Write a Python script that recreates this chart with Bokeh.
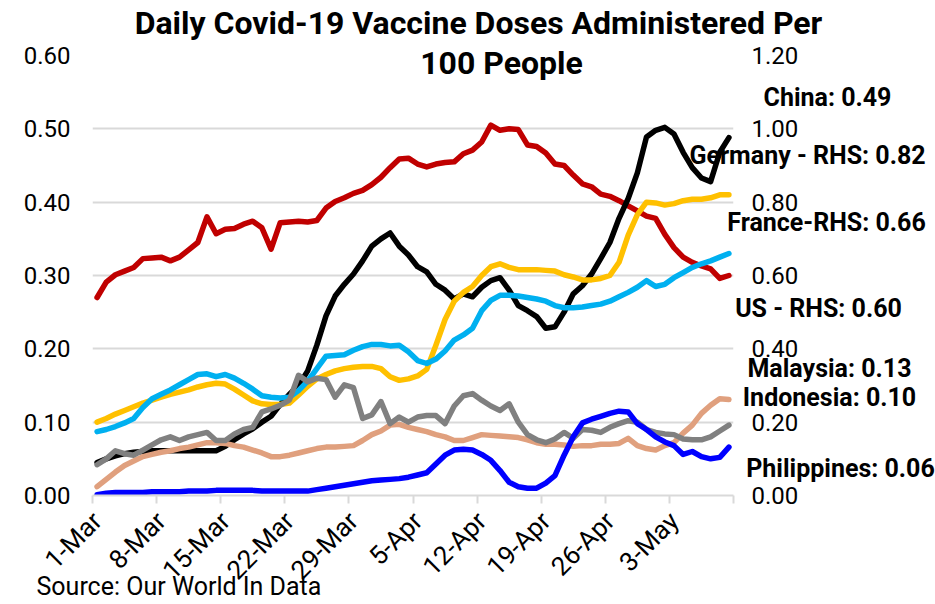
import math
import pandas as pd
from bokeh.plotting import figure
from bokeh.models import Range1d, LinearAxis, FixedTicker, NumeralTickFormatter, ColumnDataSource
from bokeh.core.properties import value
from bokeh.embed import file_html
from bokeh.resources import INLINE

# ---------------- data ----------------
dates = pd.date_range("2021-03-01", "2021-05-09", freq="D")
tick_labels = ["1-Mar", "8-Mar", "15-Mar", "22-Mar", "29-Mar", "5-Apr", "12-Apr", "19-Apr", "26-Apr", "3-May"]

# left axis series (doses per 100 people)
china = [0.045, 0.050, 0.054, 0.057, 0.059, 0.060, 0.061, 0.061, 0.061, 0.061,
         0.061, 0.061, 0.061, 0.061, 0.067, 0.076, 0.084, 0.091, 0.100, 0.108,
         0.124, 0.138, 0.150, 0.170, 0.205, 0.245, 0.272, 0.288, 0.302, 0.320,
         0.340, 0.350, 0.358, 0.340, 0.328, 0.312, 0.305, 0.288, 0.280, 0.268,
         0.275, 0.271, 0.284, 0.293, 0.297, 0.280, 0.259, 0.252, 0.244, 0.228,
         0.230, 0.250, 0.275, 0.286, 0.302, 0.323, 0.345, 0.378, 0.405, 0.440,
         0.489, 0.498, 0.502, 0.493, 0.468, 0.447, 0.433, 0.428, 0.468, 0.488]
malaysia = [0.012, 0.022, 0.032, 0.041, 0.047, 0.053, 0.056, 0.059, 0.061, 0.064,
            0.066, 0.069, 0.072, 0.072, 0.071, 0.068, 0.066, 0.062, 0.058, 0.053,
            0.053, 0.055, 0.058, 0.061, 0.064, 0.066, 0.066, 0.067, 0.068, 0.075,
            0.083, 0.088, 0.096, 0.097, 0.093, 0.090, 0.087, 0.083, 0.080, 0.075,
            0.075, 0.079, 0.083, 0.082, 0.081, 0.080, 0.079, 0.076, 0.072, 0.070,
            0.070, 0.069, 0.067, 0.068, 0.068, 0.070, 0.070, 0.071, 0.078, 0.068,
            0.064, 0.062, 0.068, 0.072, 0.085, 0.096, 0.112, 0.123, 0.132, 0.131]
indonesia = [0.042, 0.050, 0.061, 0.057, 0.055, 0.062, 0.069, 0.076, 0.080, 0.075,
             0.080, 0.083, 0.086, 0.075, 0.075, 0.084, 0.090, 0.093, 0.114, 0.118,
             0.123, 0.130, 0.164, 0.155, 0.160, 0.158, 0.134, 0.151, 0.147, 0.105,
             0.110, 0.128, 0.098, 0.107, 0.100, 0.107, 0.109, 0.109, 0.098, 0.122,
             0.136, 0.139, 0.130, 0.122, 0.116, 0.125, 0.100, 0.083, 0.076, 0.072,
             0.077, 0.086, 0.078, 0.090, 0.089, 0.086, 0.093, 0.098, 0.102, 0.100,
             0.090, 0.086, 0.084, 0.083, 0.077, 0.076, 0.076, 0.080, 0.088, 0.096]
philippines = [0.001, 0.003, 0.004, 0.004, 0.004, 0.004, 0.005, 0.005, 0.005, 0.005,
               0.006, 0.006, 0.006, 0.007, 0.007, 0.007, 0.007, 0.007, 0.006, 0.006,
               0.006, 0.006, 0.006, 0.006, 0.008, 0.010, 0.012, 0.014, 0.016, 0.018,
               0.020, 0.021, 0.022, 0.023, 0.025, 0.028, 0.031, 0.043, 0.055, 0.062,
               0.063, 0.062, 0.056, 0.048, 0.034, 0.018, 0.012, 0.010, 0.010, 0.017,
               0.027, 0.055, 0.080, 0.099, 0.104, 0.108, 0.112, 0.115, 0.114, 0.098,
               0.090, 0.080, 0.073, 0.068, 0.056, 0.060, 0.053, 0.050, 0.052, 0.066]

# right axis series (RHS)
us_rhs = [0.540, 0.582, 0.602, 0.612, 0.622, 0.646, 0.648, 0.650, 0.640, 0.650,
          0.670, 0.690, 0.760, 0.714, 0.726, 0.728, 0.740, 0.748, 0.730, 0.672,
          0.744, 0.746, 0.748, 0.746, 0.750, 0.784, 0.802, 0.812, 0.824, 0.832,
          0.848, 0.868, 0.894, 0.918, 0.920, 0.904, 0.896, 0.904, 0.908, 0.910,
          0.932, 0.942, 0.964, 1.010, 0.996, 1.000, 0.998, 0.956, 0.952, 0.934,
          0.904, 0.900, 0.874, 0.850, 0.842, 0.822, 0.816, 0.804, 0.790, 0.776,
          0.762, 0.756, 0.712, 0.676, 0.650, 0.636, 0.626, 0.618, 0.592, 0.600]
germany_rhs = [0.200, 0.210, 0.222, 0.232, 0.242, 0.252, 0.260, 0.268, 0.276, 0.282,
               0.288, 0.296, 0.302, 0.306, 0.304, 0.290, 0.274, 0.258, 0.250, 0.248,
               0.248, 0.252, 0.274, 0.298, 0.318, 0.330, 0.340, 0.346, 0.350, 0.352,
               0.352, 0.346, 0.324, 0.314, 0.318, 0.326, 0.344, 0.410, 0.480, 0.530,
               0.554, 0.570, 0.600, 0.624, 0.632, 0.622, 0.616, 0.616, 0.616, 0.614,
               0.612, 0.602, 0.596, 0.588, 0.588, 0.592, 0.600, 0.636, 0.710, 0.766,
               0.800, 0.798, 0.792, 0.796, 0.804, 0.808, 0.808, 0.812, 0.820, 0.820]
france_rhs = [0.174, 0.180, 0.188, 0.198, 0.210, 0.240, 0.264, 0.276, 0.288, 0.302,
              0.316, 0.330, 0.332, 0.324, 0.330, 0.320, 0.306, 0.290, 0.272, 0.268,
              0.266, 0.268, 0.286, 0.312, 0.346, 0.380, 0.382, 0.384, 0.396, 0.406,
              0.412, 0.412, 0.408, 0.410, 0.392, 0.368, 0.360, 0.372, 0.394, 0.424,
              0.438, 0.456, 0.504, 0.532, 0.546, 0.546, 0.544, 0.540, 0.536, 0.530,
              0.518, 0.512, 0.512, 0.514, 0.518, 0.522, 0.530, 0.542, 0.554, 0.568,
              0.586, 0.570, 0.576, 0.594, 0.608, 0.622, 0.632, 0.640, 0.650, 0.660]

end_labels = ["China: 0.49", "Germany - RHS: 0.82", "France-RHS: 0.66", "US - RHS: 0.60",
              "Malaysia: 0.13", "Indonesia: 0.10", "Philippines: 0.06"]
title_lines = ["Daily Covid-19 Vaccine Doses Administered Per", "100 People"]
source_text = "Source: Our World In Data"

# ---------------- figure ----------------
FONT = "Roboto"
GRID = "#D9D9D9"
W, H = 935, 604
ML, MR, MT, MB = 92, 202, 55, 109

n = len(dates)
xs = list(range(n))

p = figure(width=W, height=H, output_backend="svg", toolbar_location=None,
           x_range=Range1d(-0.5, n - 0.5), y_range=Range1d(0, 0.6),
           min_border_left=ML, min_border_right=MR, min_border_top=MT, min_border_bottom=MB)
p.extra_y_ranges = {"rhs": Range1d(0, 1.2)}
p.outline_line_color = None

fw = W - ML - MR
fh = H - MT - MB


def sx(px):  # canvas pixel x -> data x
    return (px - ML) / fw * n - 0.5


def sy(py):  # canvas pixel y -> data y (left axis)
    return (MT + fh - py) / fh * 0.6


# left axis
yax = p.yaxis[0]
yax.ticker = FixedTicker(ticks=[0.0, 0.1, 0.2, 0.3, 0.4, 0.5, 0.6])
yax.formatter = NumeralTickFormatter(format="0.00")
yax.axis_line_color = None
yax.major_tick_line_color = None
yax.minor_tick_line_color = None
yax.major_label_standoff = 16
yax.major_label_text_font = FONT
yax.major_label_text_font_size = "24px"
yax.major_label_text_color = "#000000"

# right axis
rax = LinearAxis(y_range_name="rhs", ticker=FixedTicker(ticks=[0.0, 0.2, 0.4, 0.6, 0.8, 1.0, 1.2]),
                 formatter=NumeralTickFormatter(format="0.00"))
rax.axis_line_color = None
rax.major_tick_line_color = None
rax.minor_tick_line_color = None
rax.major_label_standoff = 12
rax.major_label_text_font = FONT
rax.major_label_text_font_size = "24px"
rax.major_label_text_color = "#000000"
p.add_layout(rax, "right")

# bottom axis
xax = p.xaxis[0]
major = [i * 7 for i in range(len(tick_labels))]
xax.ticker = FixedTicker(ticks=major, minor_ticks=[k * 7 - 0.5 for k in range(len(tick_labels) + 1)])
xax.major_label_overrides = {m: t for m, t in zip(major, tick_labels)}
xax.major_tick_line_color = None
xax.minor_tick_line_color = GRID
xax.minor_tick_line_width = 2
xax.minor_tick_out = 8
xax.minor_tick_in = 0
xax.axis_line_color = GRID
xax.axis_line_width = 2
xax.major_label_orientation = math.pi / 4
xax.major_label_standoff = 13
xax.major_label_text_font = FONT
xax.major_label_text_font_size = "26px"
xax.major_label_text_color = "#000000"

p.xgrid.grid_line_color = None
p.ygrid.grid_line_color = GRID
p.ygrid.grid_line_width = 2

LW = 5.5
p.line(xs, us_rhs, y_range_name="rhs", line_color="#C00000", line_width=LW, line_join="round", line_cap="round")
p.line(xs, china, line_color="#000000", line_width=LW, line_join="round", line_cap="round")
p.line(xs, germany_rhs, y_range_name="rhs", line_color="#FFC000", line_width=LW, line_join="round", line_cap="round")
p.line(xs, france_rhs, y_range_name="rhs", line_color="#00B0F0", line_width=LW, line_join="round", line_cap="round")
p.line(xs, malaysia, line_color="#E0A07E", line_width=LW, line_join="round", line_cap="round")
p.line(xs, indonesia, line_color="#808080", line_width=LW, line_join="round", line_cap="round")
p.line(xs, philippines, line_color="#0000FF", line_width=LW, line_join="round", line_cap="round")


def add_text(texts, pos, size, bold=True, align="center"):
    src = ColumnDataSource(dict(x=[sx(a) for a, b in pos], y=[sy(b) for a, b in pos], t=texts))
    p.text(x="x", y="y", text="t", source=src, text_align=align, text_baseline="middle",
           text_font=value(FONT), text_font_style="bold" if bold else "normal",
           text_font_size=size, text_color="#000000", level="overlay")


# end labels (canvas pixel centres)
add_text(end_labels, [(827, 97), (807, 155), (826, 222), (818, 308), (829, 368), (829, 397), (840, 468)], "25px")
# title (two centred lines)
add_text(title_lines, [(478, 22), (501, 62)], "32px")
# source
add_text([source_text], [(36, 586)], "25px", bold=False, align="left")

open("out.html", "w").write(file_html(p, INLINE))
